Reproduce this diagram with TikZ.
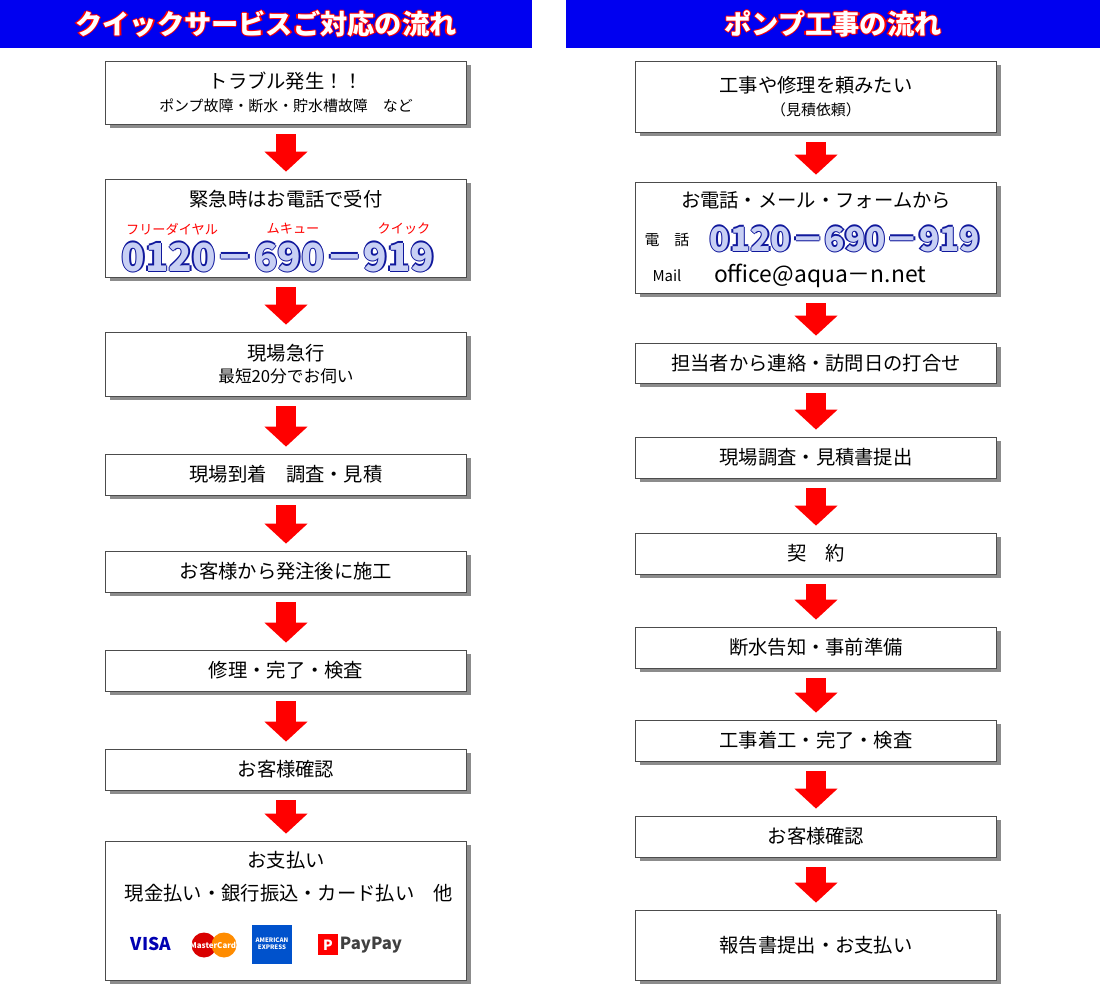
\documentclass[tikz,border=0pt]{standalone}
\usepackage{fontspec}
\setmainfont{Noto Sans CJK JP}
\usetikzlibrary{arrows.meta,shadows}
\definecolor{hdblue}{HTML}{0000F0}
\definecolor{numfill}{HTML}{C8D0F4}
\definecolor{numline}{HTML}{10189C}
\newcommand{\outlined}[3]{\leavevmode\rlap{\kern-0.8pt\color{#2}#1}\rlap{\kern0.8pt\color{#2}#1}\rlap{\raisebox{0.8pt}{\color{#2}#1}}\rlap{\raisebox{-0.8pt}{\color{#2}#1}}{\color{#3}#1}}
\newcommand{\telno}{\outlined{0120－690－919}{numline}{numfill}}

\begin{document}
\begin{tikzpicture}[
    x=0.02cm, y=-0.02cm,
    every node/.style={align=center, font=\fontsize{11}{15}\selectfont},
    header/.style={fill=hdblue, minimum height=0.96cm, inner sep=0pt, font=\fontsize{15.5}{17}\selectfont\bfseries},
    box/.style={rectangle, draw=black!70, fill=white, minimum width=7.22cm, inner sep=0pt,
        drop shadow={shadow xshift=2.5pt, shadow yshift=-2.5pt, fill=black!45, opacity=1}},
    small/.style={font=\fontsize{8.5}{10}\selectfont},
    redlbl/.style={font=\fontsize{7.5}{9}\selectfont, text=red, inner sep=0pt},
    bignum/.style={font=\fontsize{22}{24}\selectfont\bfseries, inner sep=0pt},
    bigarrow/.style={-{Triangle[length=0.4cm,width=0.84cm]}, line width=0.4cm, red,
        shorten <=0.2cm, shorten >=0.14cm}
]
\useasboundingbox (0,0) rectangle (1100,1000);

% headers
\node[header, minimum width=10.64cm] (lhead) at (266,24) {\outlined{クイックサービスご対応の流れ}{red}{white}};
\node[header, minimum width=10.68cm] (rhead) at (833,24) {\outlined{ポンプ工事の流れ}{red}{white}};

% left flow
\node[box, minimum height=1.26cm] (l1) at (286,92.5) {トラブル発生！！\\[-2pt]{\fontsize{8.5}{10}\selectfont ポンプ故障・断水・貯水槽故障　など}};
\node[box, minimum height=1.96cm] (l2) at (286,228) {};
\node (l2t) at (286,199) {緊急時はお電話で受付};
\node[redlbl] (l2a) at (172,229) {フリーダイヤル};
\node[redlbl] (l2b) at (293,229) {ムキュー};
\node[redlbl] (l2c) at (404,229) {クイック};
\node[bignum] (l2n) at (278,257) {\telno};
\node[box, minimum height=1.28cm] (l3) at (286,364) {現場急行\\[-2pt]{\fontsize{9.5}{11}\selectfont 最短20分でお伺い}};
\node[box, minimum height=0.82cm] (l4) at (286,474.5) {現場到着　調査・見積};
\node[box, minimum height=0.82cm] (l5) at (286,571.5) {お客様から発注後に施工};
\node[box, minimum height=0.82cm] (l6) at (286,670.5) {修理・完了・検査};
\node[box, minimum height=0.82cm] (l7) at (286,769.5) {お客様確認};
\node[box, minimum height=2.78cm] (l8) at (286,910.5) {};
\node (l8t) at (286,860) {お支払い};
\node (l8s) at (289,893) {現金払い・銀行振込・カード払い　他};

% card logos
\node[inner sep=0pt, text=blue!70!black, font=\fontsize{10}{12}\selectfont\bfseries\itshape] (visa) at (151,944) {VISA};
\fill[red!85!black] (204,945) circle (12.5);
\fill[orange!90!yellow] (224,945) circle (12.5);
\node[inner sep=0pt, text=white, font=\fontsize{4.5}{5}\selectfont\bfseries\itshape] (mc) at (213,945) {MasterCard};
\fill[blue!60!cyan!80!black] (252,925) rectangle (292,964);
\node[inner sep=0pt, text=white, font=\fontsize{3.5}{4}\selectfont\bfseries] (amex) at (272,944) {AMERICAN\\EXPRESS};
\fill[red] (318,934) rectangle (338,955);
\node[inner sep=0pt, text=white, font=\fontsize{8}{9}\selectfont\bfseries] (ppicon) at (328,945) {P};
\node[inner sep=0pt, text=black!75, font=\fontsize{9.5}{11}\selectfont\bfseries] (paypay) at (371,945) {PayPay};

% right flow
\node[box, minimum height=1.42cm] (r1) at (816,96.5) {工事や修理を頼みたい\\[-2pt]{\fontsize{8.5}{10}\selectfont （見積依頼）}};
\node[box, minimum height=2.22cm] (r2) at (816,237.5) {};
\node (r2t) at (816,200) {お電話・メール・フォームから};
\node[small] (r2tel) at (667,240) {電　話};
\node[bignum, font=\fontsize{19}{21}\selectfont\bfseries] (r2n) at (845,239) {\telno};
\node[small] (r2mail) at (667,276) {Mail};
\node[font=\fontsize{13}{15}\selectfont] (r2addr) at (820,276) {office@aqua－n.net};
\node[box, minimum height=0.8cm] (r3) at (816,363) {担当者から連絡・訪問日の打合せ};
\node[box, minimum height=0.82cm] (r4) at (816,457.5) {現場調査・見積書提出};
\node[box, minimum height=0.82cm] (r5) at (816,553.5) {契　約};
\node[box, minimum height=0.82cm] (r6) at (816,647.5) {断水告知・事前準備};
\node[box, minimum height=0.82cm] (r7) at (816,740.5) {工事着工・完了・検査};
\node[box, minimum height=0.82cm] (r8) at (816,836.5) {お客様確認};
\node[box, minimum height=1.4cm] (r9) at (816,945) {報告書提出・お支払い};

% arrows
\foreach \a/\b in {l1/l2,l2/l3,l3/l4,l4/l5,l5/l6,l6/l7,l7/l8,
                   r1/r2,r2/r3,r3/r4,r4/r5,r5/r6,r6/r7,r7/r8,r8/r9}
  \draw[bigarrow] (\a) -- (\b);
\end{tikzpicture}
\end{document}
